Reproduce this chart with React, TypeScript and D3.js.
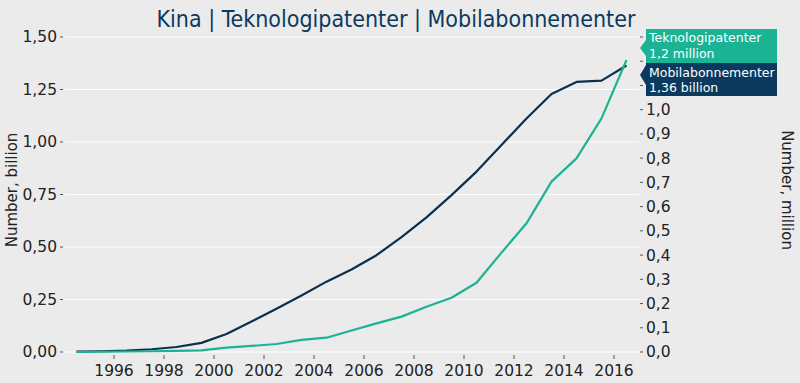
import React from "react";
import * as d3 from "d3";

const years = [1994, 1995, 1996, 1997, 1998, 1999, 2000, 2001, 2002, 2003, 2004, 2005, 2006, 2007, 2008, 2009, 2010, 2011, 2012, 2013, 2014, 2015, 2016];
// Mobile subscriptions, billion (left axis)
const mobile = [0.0016, 0.0036, 0.0069, 0.0132, 0.0239, 0.0433, 0.0853, 0.145, 0.206, 0.269, 0.335, 0.393, 0.461, 0.547, 0.641, 0.747, 0.859, 0.986, 1.112, 1.229, 1.286, 1.292, 1.364];
// Technology patents, million (right axis)
const patents = [0.0, 0.001, 0.002, 0.003, 0.005, 0.007, 0.018, 0.025, 0.033, 0.05, 0.059, 0.089, 0.118, 0.146, 0.187, 0.224, 0.286, 0.41, 0.531, 0.703, 0.799, 0.964, 1.205];
const xTicks = [1996, 1998, 2000, 2002, 2004, 2006, 2008, 2010, 2012, 2014, 2016];
const leftTicks = [0, 0.25, 0.5, 0.75, 1.0, 1.25, 1.5];
const rightTicks = [0, 0.1, 0.2, 0.3, 0.4, 0.5, 0.6, 0.7, 0.8, 0.9, 1.0, 1.1, 1.2, 1.3];
// right tick labels above 1.0 are hidden behind the end labels in the reference
const rightLabelMax = 1.0;

const W = 800;
const H = 383;
const NAVY = "#0b2f4f";
const NAVY_BOX = "#0b3a5e";
const TEAL = "#1bb394";
const FONT = "'DejaVu Sans', sans-serif";

export default function App() {
  const x = d3.scaleLinear().domain([1994, 2017]).range([64, 639]);
  const yL = d3.scaleLinear().domain([0, 1.5]).range([352, 37]);
  const yR = d3.scaleLinear().domain([0, 1.3]).range([352, 37]);
  const fmt2 = (v: number) => d3.format(".2f")(v).replace(".", ",");
  const fmt1 = (v: number) => d3.format(".1f")(v).replace(".", ",");

  const lineMobile = d3
    .line<number>()
    .x((_, i) => x(years[i] + 0.5))
    .y((d) => yL(d));
  const linePatents = d3
    .line<number>()
    .x((_, i) => x(years[i] + 0.5))
    .y((d) => yR(d));

  const boxL = 646;
  const boxR = 777;
  const tip = 640;

  return (
    <div style={{ position: "fixed", left: 0, top: 0 }}>
      <svg width={W} height={H} style={{ display: "block" }}>
        <rect x={0} y={0} width={W} height={H} fill="#ebebeb" />
        <text x={396} y={27} textAnchor="middle" fontFamily="'DejaVu Sans Condensed', 'DejaVu Sans', sans-serif" fontSize={23} fill={NAVY_BOX}>
          Kina | Teknologipatenter | Mobilabonnementer
        </text>
        {leftTicks.map((t) => (
          <g key={"l" + t}>
            <line x1={65} x2={639} y1={yL(t)} y2={yL(t)} stroke="#ffffff" strokeWidth={1.2} />
            <line x1={60} x2={63} y1={yL(t)} y2={yL(t)} stroke="#555" strokeWidth={1} />
            <text x={57} y={yL(t)} dy="0.35em" textAnchor="end" fontFamily={FONT} fontSize={15.5} fill="#222">
              {fmt2(t)}
            </text>
          </g>
        ))}
        {rightTicks.map((t) => (
          <g key={"r" + t}>
            <line x1={640} x2={643} y1={yR(t)} y2={yR(t)} stroke="#555" strokeWidth={1} />
            {t <= rightLabelMax + 1e-9 && (
              <text x={646} y={yR(t)} dy="0.35em" textAnchor="start" fontFamily={FONT} fontSize={15.5} fill="#222">
                {fmt1(t)}
              </text>
            )}
          </g>
        ))}
        {xTicks.map((t) => (
          <g key={"x" + t}>
            <line x1={x(t)} x2={x(t)} y1={355} y2={359} stroke="#555" strokeWidth={1} />
            <text x={x(t)} y={376} textAnchor="middle" fontFamily={FONT} fontSize={15.5} fill="#222">
              {t}
            </text>
          </g>
        ))}
        <text transform="translate(17,190) rotate(-90)" textAnchor="middle" fontFamily={FONT} fontSize={15} fill="#222">
          Number, billion
        </text>
        <text transform="translate(782,190) rotate(90)" textAnchor="middle" fontFamily={FONT} fontSize={15} fill="#222">
          Number, million
        </text>
        <path d={lineMobile(mobile) || ""} fill="none" stroke={NAVY} strokeWidth={2.2} strokeLinejoin="round" />
        <path d={linePatents(patents) || ""} fill="none" stroke={TEAL} strokeWidth={2.2} strokeLinejoin="round" />
        {/* end labels */}
        <path
          d={`M${boxL},29 L${boxR},29 L${boxR},63 L${boxL},63 L${boxL},56 L${tip},48 L${boxL},40 Z`}
          fill={TEAL}
        />
        <text x={649} y={42} fontFamily={FONT} fontSize={12.5} fill="#fff">Teknologipatenter</text>
        <text x={649} y={58} fontFamily={FONT} fontSize={12.5} fill="#fff">1,2 million</text>
        <path
          d={`M${boxL},63 L${boxR},63 L${boxR},96 L${boxL},96 L${boxL},85 L${tip},75 L${boxL},65 Z`}
          fill={NAVY_BOX}
        />
        <text x={649} y={77} fontFamily={FONT} fontSize={12.5} fill="#fff">Mobilabonnementer</text>
        <text x={649} y={92} fontFamily={FONT} fontSize={12.5} fill="#fff">1,36 billion</text>
      </svg>
    </div>
  );
}
